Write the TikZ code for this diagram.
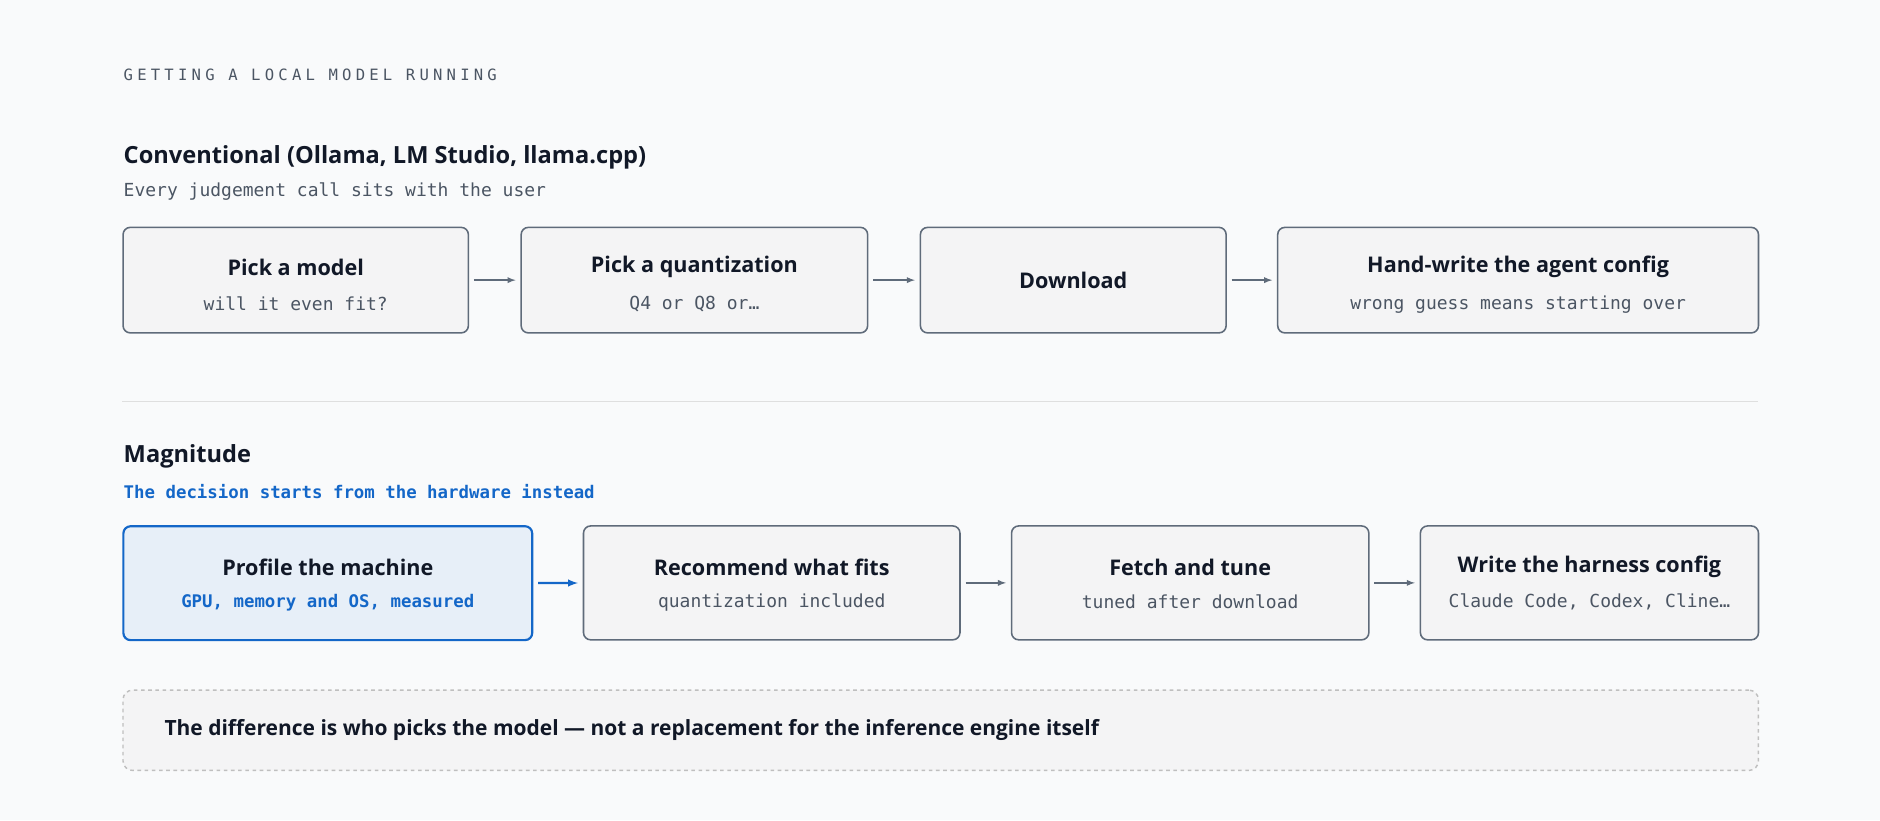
\documentclass[tikz,border=0pt]{standalone}
\usepackage{fontspec}
\setmainfont{Open Sans}
\setmonofont{DejaVu Sans Mono}
\usetikzlibrary{calc,arrows,positioning}
\definecolor{bgc}{HTML}{F9FAFB}
\definecolor{boxfill}{HTML}{F4F4F5}
\definecolor{boxline}{HTML}{5F6B7A}
\definecolor{inkc}{HTML}{111827}
\definecolor{mutedc}{HTML}{4B5563}
\definecolor{bluec}{HTML}{1467C8}
\definecolor{bluefill}{HTML}{E7EFF8}
\tikzset{
    stage/.style={
    rectangle,rounded corners=6pt,draw=boxline,fill=boxfill,line width=1.3pt,anchor=north west
    },
    hstage/.style={
    stage,draw=bluec,fill=bluefill,line width=1.8pt
    },
    dstage/.style={
    stage,draw=gray!50,dashed,rounded corners=8pt,line width=1.2pt
    },
    heading/.style={
    anchor=west,font=\fontsize{19.7}{22}\selectfont\bfseries,text=inkc,inner sep=0pt
    },
    note/.style={
    anchor=west,font=\ttfamily\fontsize{15}{18}\selectfont,text=mutedc,inner sep=0pt
    },
    ttl/.style={
    font=\fontsize{18}{21}\selectfont\bfseries,text=inkc,inner sep=0pt
    },
    sub/.style={
    font=\ttfamily\fontsize{15}{18}\selectfont,text=mutedc,inner sep=0pt
    },
    flow/.style={
    -latex,draw=boxline,line width=1.3pt,shorten >=4pt,shorten <=4pt,>=latex
    },
}
\newcommand{\stagebox}[6]{% name, x1, y1, x2, y2, style
  \node[#6,minimum width=#4pt-#2pt,minimum height=#5pt-#3pt] (#1) at (#2pt,-#3pt) {};
}
\begin{document}
\begin{tikzpicture}[x=1pt,y=1pt]
  \fill[bgc] (0,0) rectangle (1568,-684);
  \useasboundingbox (0,0) rectangle (1568,-684);

  \node[note,font=\ttfamily\fontsize{13}{16}\selectfont\addfontfeature{LetterSpace=27}] (kicker) at (103,-62)
    {GETTING A LOCAL MODEL RUNNING};

  % conventional row
  \node[heading] (convh) at (103,-131) {Conventional (Ollama, LM Studio, llama.cpp)};
  \node[note] (convs) at (103,-160) {Every judgement call sits with the user};
  \stagebox{pick}{102}{189}{390}{277}{stage}
  \stagebox{quant}{434}{189}{723}{277}{stage}
  \stagebox{down}{767}{189}{1022}{277}{stage}
  \stagebox{hand}{1065}{189}{1466}{277}{stage}
  \node[ttl] at ($(pick.center)+(0,11)$) {Pick a model};
  \node[sub] at ($(pick.center)+(0,-20)$) {will it even fit?};
  \node[ttl] at ($(quant.center)+(0,11)$) {Pick a quantization};
  \node[sub] at ($(quant.center)+(0,-20)$) {Q4 or Q8 or…};
  \node[ttl] at (down.center) {Download};
  \node[ttl] at ($(hand.center)+(0,11)$) {Hand-write the agent config};
  \node[sub] at ($(hand.center)+(0,-20)$) {wrong guess means starting over};
  \draw[flow] (pick) -- (quant);
  \draw[flow] (quant) -- (down);
  \draw[flow] (down) -- (hand);

  \draw[gray!25,line width=1pt] (102,-335) -- (1466,-335);

  % magnitude row
  \node[heading] (magh) at (103,-381) {Magnitude};
  \node[note,text=bluec,font=\ttfamily\bfseries\fontsize{14.5}{17}\selectfont] (mags) at (103,-410)
    {The decision starts from the hardware instead};
  \stagebox{prof}{102}{438}{443}{533}{hstage}
  \stagebox{rec}{486}{438}{800}{533}{stage}
  \stagebox{fetch}{843}{438}{1141}{533}{stage}
  \stagebox{write}{1184}{438}{1466}{533}{stage}
  \node[ttl] at ($(prof.center)+(0,13)$) {Profile the machine};
  \node[sub,text=bluec,font=\ttfamily\bfseries\fontsize{14.5}{17}\selectfont] at ($(prof.center)+(0,-16)$) {GPU, memory and OS, measured};
  \node[ttl] at ($(rec.center)+(0,13)$) {Recommend what fits};
  \node[sub] at ($(rec.center)+(0,-16)$) {quantization included};
  \node[ttl] at ($(fetch.center)+(0,13)$) {Fetch and tune};
  \node[sub] at ($(fetch.center)+(0,-16)$) {tuned after download};
  \node[ttl] at ($(write.center)+(0,13)$) {Write the harness config};
  \node[sub] at ($(write.center)+(0,-16)$) {Claude Code, Codex, Cline…};
  \draw[flow,draw=bluec,line width=1.8pt] (prof) -- (rec);
  \draw[flow] (rec) -- (fetch);
  \draw[flow] (fetch) -- (write);

  % footnote box
  \stagebox{diff}{102}{575}{1466}{642}{dstage}
  \node[ttl,anchor=west,font=\fontsize{17.5}{20}\selectfont\bfseries] (difft) at (137,-609)
    {The difference is who picks the model — not a replacement for the inference engine itself};
\end{tikzpicture}
\end{document}
